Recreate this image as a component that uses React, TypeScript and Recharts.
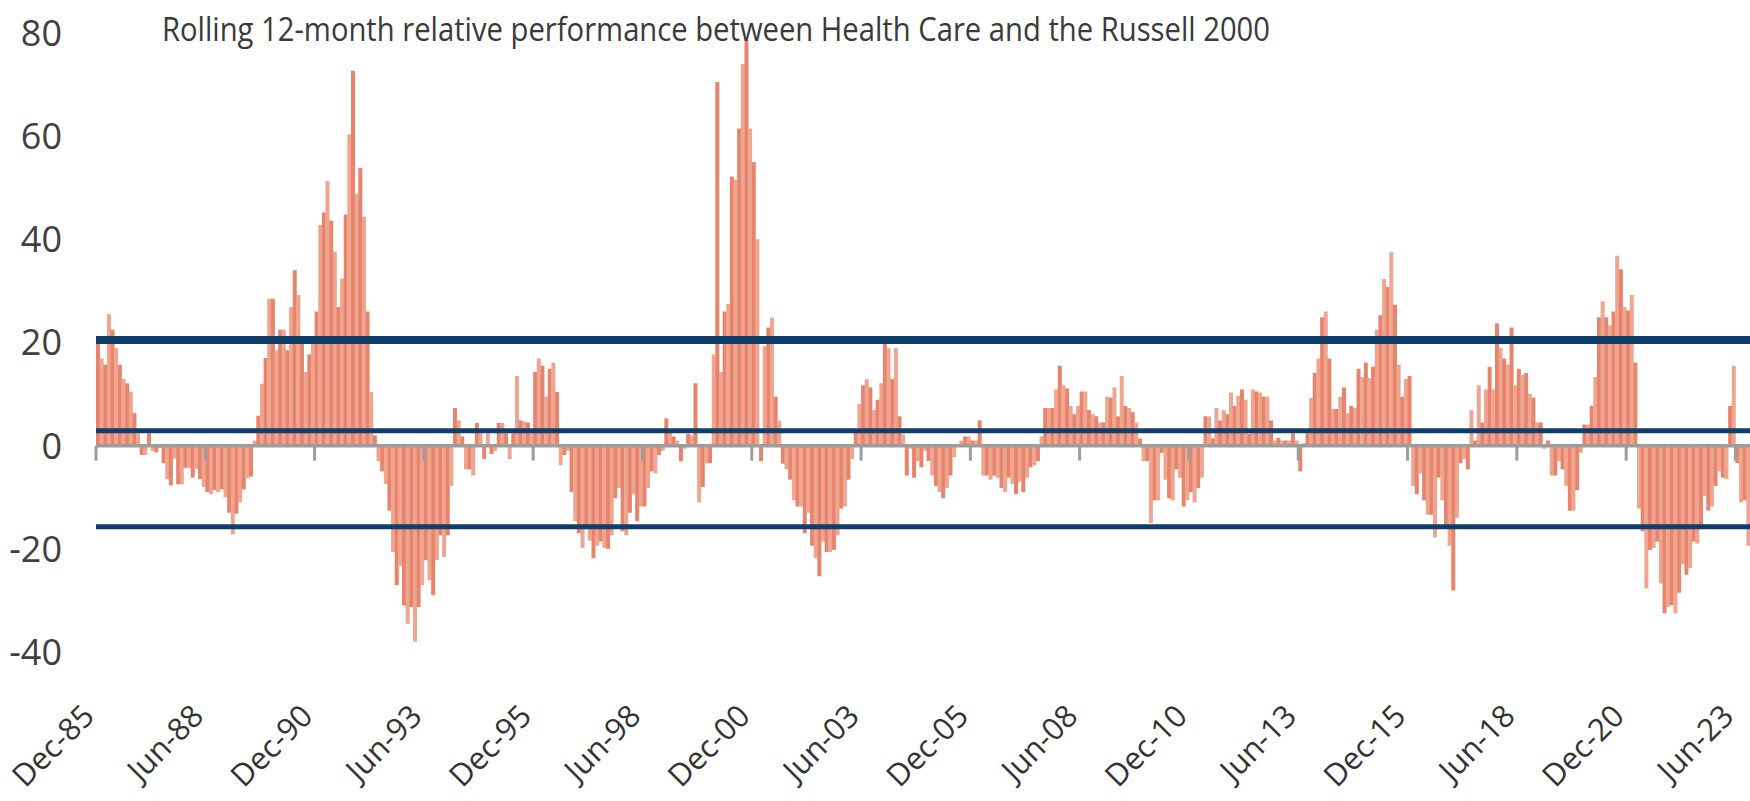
import { BarChart, Bar, XAxis, YAxis, ReferenceLine, Cell } from 'recharts';

// Rolling 12-month relative performance (Health Care vs Russell 2000), monthly from Dec-85
// one row = 30 months, starting at each labelled tick
const relPerf = [
  19.7, 16.9, 15.7, 25.5, 22.5, 18.9, 15.7, 13, 12.1, 10.5, 6.3, 2.4, -1.8, -1.8, 2.4, -1.0, -1.3, -0.5, -3.4, -6.5, -7.7, -2.5, -7.5, -7.5, -4.3, -4.3, -6.2, -4.5, -6.5, -8,
  -9, -9.4, -8.6, -9, -8.5, -10, -13, -17.2, -13.2, -11, -8.5, -6.3, -6, 1, 5.8, 12, 17, 28.5, 28.5, 18.5, 22.5, 22.5, 18.5, 26.9, 34, 29.2, 19.7, 14.3, 17.7, 19.7,
  26, 42.8, 45.2, 51.3, 43.6, 37.6, 26.9, 32.4, 44.8, 60.3, 72.7, 48.8, 53.9, 44.4, 26, 10.4, 2, -3, -5, -7.4, -12.6, -20.6, -27, -23.3, -31, -34.5, -31.3, -38, -31.3, -27,
  -22.2, -26.1, -29, -22.2, -17.4, -21.6, -17.4, -7.8, 7.3, 4.9, 1.8, -4.6, -4.6, -5.8, 4.4, 2.4, -2.6, 2.4, -1.6, -1, 4.4, 4.4, 2.4, -2.6, 2.4, 13.5, 4.9, 4.7, 4.5, 2.4,
  14.3, 16.9, 15.5, 9.5, 14.9, 16.1, 10.4, -3.8, -1.8, -1, -9, -14.6, -17, -19.8, -16.2, -18.4, -21.8, -19.4, -18.6, -19.8, -20, -17.4, -10.2, -8.2, -16.6, -17.4, -13, -9.4, -14.6, -11.8,
  -11.8, -8.2, -5, -5.4, -1.8, -1, 5.3, 3, 1.8, 1, -3, -0.6, 2.3, 2, 12.1, -11, -8, -3.4, -3.4, 17.7, 70.5, 14.3, 26, 27.5, 52.2, 51.6, 61.5, 74, 78.6, 61.5,
  55, 40, -3, 19.3, 22.9, 24.8, 9.5, 4.9, -3.5, -4.6, -6.6, -10.6, -11.8, -11.8, -17, -13, -19.4, -21.8, -25.3, -18.6, -20.6, -20.6, -20.2, -17.4, -12.2, -11.8, -6.6, -2.6, 3, 8.1,
  11.7, 12.9, 11.3, 6.9, 8.9, 12.1, 19.7, 18.9, 12.9, 18.9, 5.7, 2.2, -5.8, -0.6, -6.2, -3, -4.2, -1, -3, -5.8, -7.8, -9, -10.2, -8.2, -5.8, -2.2, 0.3, 1, 1.8, 1.8,
  1, 1, 4.9, -5.8, -5.8, -6.6, -5.8, -6.2, -8.2, -9, -6.2, -7.4, -9.4, -7, -9, -6.2, -4.2, -3.8, -3, 1.8, 7.3, 7.3, 7.3, 10.9, 15.5, 11.7, 11.1, 7.7, 6.1, 7.7,
  10.5, 10.5, 6.9, 6.1, 5.7, 4.5, 4.5, 9.5, 9.3, 11.3, 5.7, 13.5, 7.7, 7.3, 6.5, 4.5, 1.4, -3, -3, -15, -10.6, -10.6, -1.4, -6.6, -10.2, -10.6, -4.6, -6.2, -11.8, -10.6,
  -9, -11, -8.2, -6.2, 5.7, 5.7, 1.4, 7.3, 4.9, 6.9, 6.1, 10.3, 7.7, 9.7, 10.9, 8.9, 2.3, 10.9, 10.5, 10.3, 9.5, 9.5, 4.9, 1, 1.5, 1, 1, 1, 2.4, 1,
  -5, 0.5, 2.4, 9.3, 14.1, 16.9, 24.9, 26, 16.9, 7.1, 7.1, 9.5, 11.3, 6.3, 7.7, 7.3, 14.9, 13.3, 16.1, 13.1, 15.3, 22.5, 25.3, 32.3, 30.8, 37.5, 27.3, 15.7, 9.5, 12.9,
  13.5, -7.8, -9.4, -5.4, -10.6, -13.4, -13.4, -17.8, -6.2, -10.6, -15.8, -19.4, -28.1, -14, -3.4, -2.6, -4.6, 6.9, 1, 11.7, 4.5, 10.9, 15.3, 10.9, 23.7, 18.9, 16.9, 15.7, 22.9, 11.7,
  14.9, 13.7, 14.1, 10.1, 9.3, 4.5, 4.5, -0.6, 1, -5.8, -5.8, -3, -4.6, -7.8, -12.6, -12.6, -8.6, -1.4, 4.1, 4.1, 7.7, 13.3, 24.9, 28, 24.9, 23.3, 26, 36.8, 34.2, 26.9,
  26.2, 29.2, 16.1, -12.2, -16.6, -27.7, -20.2, -19.8, -18.6, -26.7, -32.5, -31.3, -30.9, -32.5, -28.5, -23, -25, -23.7, -18.6, -19, -15.8, -9.8, -12.6, -11.8, -7.8, -5, -6.2, -6.5, 7.7, 15.5,
  -3.4, -11, -10.6, -19.4,
];

// horizontal reference levels (upper band, middle, lower band)
const bandLevels = [20.5, 2.9, -15.7];
const bandWidths = [8, 5, 5];

const yTicks = [-40, -20, 0, 20, 40, 60, 80];
const MON = ['Jan', 'Feb', 'Mar', 'Apr', 'May', 'Jun', 'Jul', 'Aug', 'Sep', 'Oct', 'Nov', 'Dec'];

const months = relPerf.map((_, i) => {
  const m = (11 + i) % 12;
  const y = (85 + Math.floor((11 + i) / 12)) % 100;
  return `${MON[m]}-${String(y).padStart(2, '0')}`;
});

const data = months.map((month, i) => ({ month, value: relPerf[i] }));

const W = 1750;
const H = 801;
const LEFT = 96;
const TOP = 33;
const XAXIS_H = 149;
const PLOT_H = H - TOP - XAXIS_H;
const Y_MIN = -40;
const Y_MAX = 80;
const ZERO_Y = TOP + (PLOT_H * Y_MAX) / (Y_MAX - Y_MIN);
const BAND = (W - LEFT) / data.length;

const FONT = '"Open Sans", "DejaVu Sans", sans-serif';

const XTick = ({ x, payload }: any) => {
  const bx = x - BAND / 2;
  const lx = bx;
  const ly = 718;
  return (
    <g>
      <line x1={bx} x2={bx} y1={ZERO_Y} y2={ZERO_Y + 15} stroke="#9d9d9d" strokeWidth={3} />
      <text
        x={lx}
        y={ly}
        transform={`rotate(-45 ${lx} ${ly})`}
        textAnchor="end"
        fontSize={31}
        fontFamily={FONT}
        fill="#333333"
      >
        {payload.value}
      </text>
    </g>
  );
};

const YTick = ({ y, payload }: any) => (
  <text x={62} y={y} dy="0.36em" textAnchor="end" fontSize={36} fontFamily={FONT} fill="#3f3f3f">
    {payload.value}
  </text>
);

export default function App() {
  return (
    <div style={{ position: 'relative', width: W, height: H, background: '#fff' }}>
      <style>{'body{margin:0}'}</style>
      <BarChart
        width={W}
        height={H}
        data={data}
        margin={{ top: TOP, right: 0, left: 0, bottom: 0 }}
        barCategoryGap={0}
        barGap={0}
      >
        <XAxis
          dataKey="month"
          height={XAXIS_H}
          interval={29}
          axisLine={false}
          tickLine={false}
          tick={<XTick />}
        />
        <YAxis
          width={LEFT}
          domain={[Y_MIN, Y_MAX]}
          ticks={yTicks}
          axisLine={false}
          tickLine={false}
          tick={<YTick />}
        />
        <Bar dataKey="value" isAnimationActive={false}>
          {data.map((_, i) => (
            <Cell key={i} fill={i % 2 === 0 ? '#e8836c' : '#efa690'} />
          ))}
        </Bar>
        <ReferenceLine y={0} stroke="#9d9d9d" strokeWidth={3.5} />
        {bandLevels.map((v, i) => (
          <ReferenceLine key={i} y={v} stroke="#0f3e6b" strokeWidth={bandWidths[i]} />
        ))}
      </BarChart>
      <svg width={W} height={60} style={{ position: 'absolute', left: 0, top: 0, pointerEvents: 'none' }}>
        <text
          x={162}
          y={41}
          fontSize={32}
          fontFamily={FONT}
          fill="#3a3a3a"
          textLength={1108}
          lengthAdjust="spacingAndGlyphs"
        >
          Rolling 12-month relative performance between Health Care and the Russell 2000
        </text>
      </svg>
    </div>
  );
}
